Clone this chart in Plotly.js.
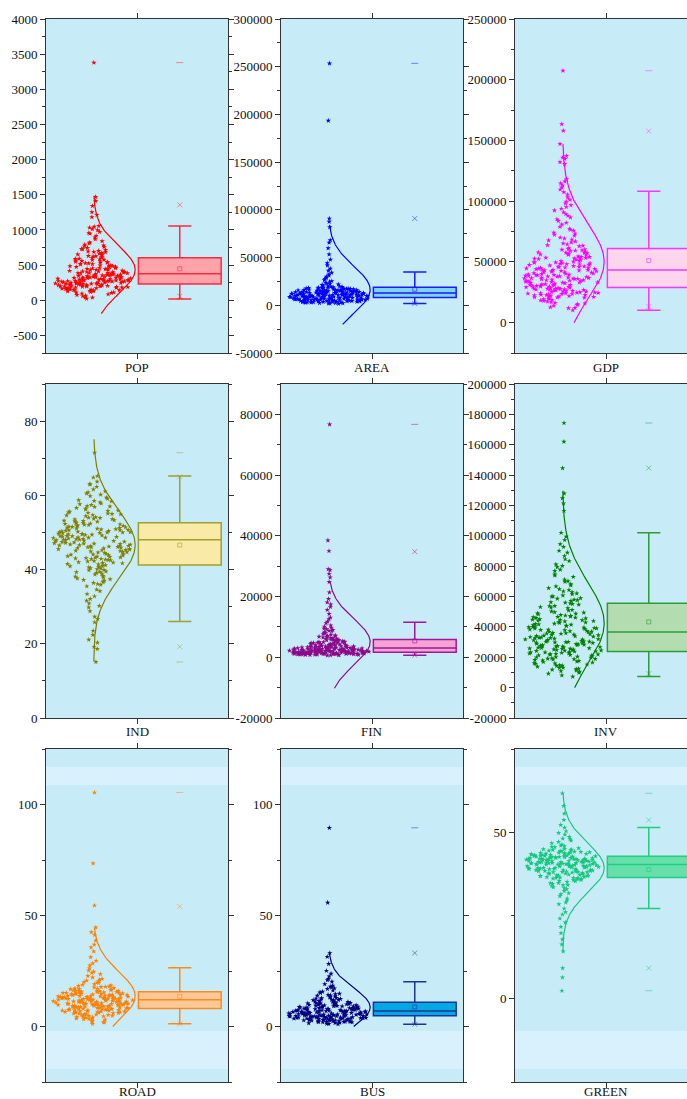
<!DOCTYPE html>
<html><head><meta charset="utf-8">
<script src="https://cdn.plot.ly/plotly-3.0.1.min.js"></script>
<style>html,body{margin:0;padding:0;overflow:hidden;background:#fff}#chart{width:697px;height:1099px}</style>
</head><body><div id="chart"></div>
<script>
const names = ['POP','AREA','GDP','IND','FIN','INV','ROAD','BUS','GREEN'];

const POP = [
 312, 188, 457, 96, 245, 603, 171, 368, 529, 283, 1046, 142, 394, 217, 731, 259, 66, 487, 335, 154,
 612, 298, 422, 203, 1254, 349, 118, 566, 271, 822, 183, 377, 236, 674, 447, 127, 301, 948, 262, 513,
 164, 389, 223, 758, 292, 41, 469, 336, 197, 583, 276, 1412, 352, 109, 641, 228, 405, 869, 251, 178,
 324, 549, 206, 694, 286, 433, 148, 371, 1012, 239, 497, 318, 85, 621, 265, 356, 192, 779, 411, 230,
 537, 134, 308, 917, 247, 462, 344, 172, 659, 281, 385, 213, 1183, 327, 572, 159, 443, 295, 715, 256,
 22, 398, 209, 486, 338, 808, 268, 141, 593, 364, 226, 1057, 305, 518, 189, 427, 274, 664, 347, 113,
 241, 956, 379, 523, 166, 287, 745, 332, 452, 199, 611, 262, 394, 3380, 219, 491, 316, 76, 557, 244,
 683, 359, 176, 436, 291, 842, 221, 508, 341, 151, 726, 278, 381, 972, 233, 474, 322, 195, 589, 253,
 1341, 366, 130, 419, 268, 631, 313, 894, 208, 545, 387, 161, 702, 248, 461, 329, 57, 578, 288, 1213,
 354, 182, 496, 235, 767, 306, 412, 144, 628, 274, 997, 343, 215, 533, 386, 106, 688, 257, 449, 321,
 1470, 202, 561, 298, 38, 792, 362, 229, 477, 171, 1034, 283, 402, 652
];
const AREA = [
 12450, 4380, 18920, 8760, 2150, 15630, 10240, 6870, 23610, 13980, 5290, 9470, 17340, 3620, 11860, 7530, 28740, 14720, 1870, 10890,
 16250, 6040, 12910, 4950, 8230, 19870, 11130, 3090, 15080, 9820, 34160, 7190, 13460, 5620, 17980, 2680, 10560, 21340, 8490, 14310,
 6480, 12070, 4110, 16840, 9160, 44210, 11590, 7860, 13720, 2390, 18410, 5870, 10030, 26380, 8040, 15420, 3840, 12630, 6690, 17120,
 9630, 4620, 14050, 20560, 11370, 7340, 16530, 1620, 13190, 8910, 87600, 5410, 10710, 18640, 3370, 12220, 7010, 15910, 24890, 9310,
 4790, 14580, 6230, 11020, 17650, 8370, 31280, 2870, 13630, 10420, 5960, 16020, 7720, 19230, 12780, 3990, 9040, 15270, 6310, 22470,
 11760, 4250, 14910, 8620, 53400, 10170, 17480, 5140, 12340, 7450, 193500, 9740, 16690, 3210, 13250, 6820, 18190, 11280, 2540, 14430,
 8130, 27650, 10830, 5730, 15760, 7620, 12890, 4510, 20180, 9560, 16370, 6580, 11940, 3480, 13860, 38470, 8820, 17790, 5050, 10330,
 14170, 7080, 12560, 2960, 18770, 9250, 65700, 6140, 15190, 11690, 4030, 13510, 8550, 21890, 10610, 5560, 16980, 7270, 12180, 3720,
 29960, 9910, 14840, 6390, 11470, 18330, 4860, 13070, 8300, 253500, 15500, 7390, 10980, 5330, 17230, 2280, 12740, 9380, 23020, 6960,
 14660, 41830, 11180, 4440, 16110, 8680, 13370, 5870, 19550, 10460, 7830, 12010, 3560, 15850, 9090, 81900, 6530, 13900, 25430, 11580,
 47890, 18050, 8420, 14990, 36250, 6720, 90900, 59800, 68200, 32470
];
const GDP = [
 43420, 21260, 56740, 29870, 15230, 38290, 67690, 24710, 47150, 33190, 90820, 19270, 51520, 27790, 36480, 61420, 22640, 41190, 112870, 30590,
 45930, 25380, 73250, 34660, 17420, 54130, 28520, 39740, 82240, 23310, 48890, 32480, 12640, 59360, 26410, 44680, 64520, 35740, 20520, 50640,
 31320, 99580, 27120, 42270, 57620, 22950, 37560, 70060, 29140, 46740, 13920, 53260, 25740, 40820, 134870, 33570, 60230, 21930, 43850, 76470,
 28140, 49320, 36120, 18810, 55440, 24320, 39010, 87980, 30980, 47590, 26090, 41530, 66870, 23680, 52380, 34280, 16340, 58490, 29430, 45020,
 105360, 37920, 20890, 50210, 31760, 62930, 27430, 43960, 35030, 78920, 24560, 56310, 40080, 14580, 48460, 33940, 95210, 22280, 44190, 69240,
 30210, 53690, 26780, 38650, 158000, 19640, 47380, 32850, 63740, 25060, 41910, 57180, 28810, 85110, 36830, 21570, 49780, 11850, 34870, 71640,
 45470, 27280, 54560, 39370, 23990, 60690, 31540, 118140, 42640, 18380, 51940, 29660, 75680, 37210, 24060, 46280, 93770, 33760, 58920, 20140,
 40450, 65310, 27990, 48040, 35390, 15870, 55870, 30420, 43310, 80870, 22460, 52830, 38110, 101240, 26270, 44470, 68430, 32090, 57850, 23540,
 42980, 10170, 49050, 36650, 130640, 28330, 54130, 39560, 72410, 25590, 46030, 34130, 89430, 21740, 59570, 41350, 17960, 50890, 30790, 63320,
 207400, 37030, 44880, 27680, 56090, 33010, 109610, 24860, 48230, 39190, 77290, 20710, 52610, 35950, 16910, 47790, 135920, 29530, 66080, 42430,
 96690, 31030, 53470, 22800, 45720, 38710, 116290, 28010, 57390, 40270, 74030, 26930, 49530, 147120, 36300, 163500, 12210, 60040, 32660, 43000,
 114630, 137260, 107480, 132190, 103120, 111280, 92360, 98140, 83690, 86560
];
const IND = [
 48.3, 41.7, 53.9, 37.2, 50.6, 44.9, 58.7, 46.2, 32.1, 51.4, 43.5, 49.1, 55.8, 39.8, 47.6, 62.3, 45.1, 52.2, 36.4, 48.9,
 42.6, 57.1, 50.1, 27.3, 46.8, 53.3, 40.4, 49.7, 44.2, 60.8, 51.8, 38.7, 47.2, 55.1, 43.1, 48.5, 34.6, 52.7, 45.9, 64.8,
 50.3, 41.2, 56.4, 46.4, 39.1, 49.5, 53.6, 22.4, 47.9, 44.5, 51.1, 59.4, 42.3, 48.1, 37.9, 54.4, 45.4, 50.8, 30.9, 46.9,
 52.4, 40.9, 57.8, 48.7, 43.8, 19.2, 51.6, 36.8, 49.3, 55.4, 45.7, 42.0, 50.0, 61.6, 47.4, 38.3, 53.1, 44.7, 49.9, 33.4,
 46.1, 52.0, 41.5, 58.1, 48.2, 43.3, 56.9, 50.5, 39.5, 47.0, 54.9, 45.2, 28.8, 51.2, 42.8, 49.0, 63.7, 46.6, 37.4, 52.9,
 44.0, 50.9, 40.6, 55.6, 48.6, 35.5, 47.5, 53.7, 43.6, 60.2, 49.6, 45.6, 25.8, 51.5, 41.9, 57.4, 46.5, 38.9, 50.2, 44.3,
 54.1, 48.0, 42.5, 59.8, 47.1, 36.1, 52.5, 45.0, 49.4, 31.6, 43.9, 56.2, 50.7, 40.1, 48.4, 65.2, 46.0, 53.2, 41.0, 51.9,
 44.8, 58.5, 39.3, 47.7, 52.1, 15.1, 49.2, 43.0, 55.0, 46.3, 37.6, 50.4, 62.9, 45.3, 51.0, 29.8, 48.8, 42.2, 54.6, 40.3,
 47.3, 57.0, 44.1, 49.8, 35.9, 52.6, 46.7, 41.4, 53.5, 71.5, 48.6, 38.1, 50.0, 45.8, 59.1, 43.2, 51.3, 34.2, 47.8, 55.9,
 42.9, 49.0, 26.7, 46.0, 52.3, 39.9, 48.1, 61.1, 44.6, 50.6, 37.0, 54.0, 45.5, 41.8, 51.7, 20.3, 47.0, 56.6, 43.4, 49.5,
 58.4, 40.7, 53.0, 46.3, 23.5, 50.1, 42.7, 63.1, 18.6, 32.8, 57.6, 36.6, 55.3, 21.1, 39.4, 60.5, 30.2, 54.7
];
const FIN = [
 2310, 870, 4520, 1430, 6120, 3080, 1190, 2760, 9240, 1680, 3840, 740, 5210, 2040, 1270, 7480, 2590, 1020, 3370, 15630,
 1840, 4960, 1350, 2870, 8310, 1560, 3620, 960, 5830, 2180, 1110, 4180, 2440, 10470, 1720, 6790, 3190, 1240, 2710, 580,
 4730, 1910, 3470, 1390, 12560, 2290, 5460, 1060, 3010, 1620, 7930, 2520, 4070, 890, 1980, 3760, 1300, 6360, 2650, 28700,
 1470, 4390, 2120, 990, 5020, 3280, 1760, 9780, 2370, 1160, 3930, 1530, 6980, 2830, 1340, 4610, 2060, 17420, 1080, 3540,
 2480, 5640, 1610, 810, 3150, 2240, 8720, 1420, 4280, 1890, 2960, 1200, 6540, 3700, 1650, 11240, 2560, 940, 5290, 2010,
 1510, 3420, 2780, 1010, 4850, 1790, 7210, 2390, 38500, 1280, 3890, 2140, 5910, 1580, 3060, 1120, 9460, 2670, 4450, 1860,
 660, 3310, 1450, 6050, 2210, 14280, 1700, 4090, 2900, 1030, 5380, 1960, 3580, 1260, 8040, 2500, 1540, 4670, 2270, 910,
 3230, 1820, 7660, 1170, 2620, 5120, 1400, 3990, 21350, 2090, 1710, 6270, 2800, 1050, 4350, 1930, 3120, 1320, 10080, 2430,
 1600, 5710, 2170, 850, 3660, 1490, 76700, 2940, 4800, 1230, 7040, 2330, 1780, 3390, 16540, 2050, 1140, 5570, 2720, 1870,
 4230, 1380, 9010, 3020, 1640, 24800, 2190, 4920, 1090, 3500, 1920, 6680, 2600, 35000, 1440, 13100, 3810, 1740, 8580, 2260,
 26300, 1150, 5050, 2470, 19200, 3250, 720, 11750, 1950, 4010, 18100, 1310, 29000, 2840, 27500
];
const INV = [
 36120, 18940, 52380, 27660, 12480, 44710, 23150, 64290, 31470, 9870, 40860, 21320, 57930, 29850, 15670, 47240, 34280, 83410, 25530, 38960,
 17230, 49680, 26740, 69820, 32910, 11350, 43150, 22580, 55460, 30210, 19760, 37840, 74530, 28320, 14290, 46380, 24860, 60150, 35170, 8120,
 41930, 20470, 53810, 31980, 92760, 16880, 39520, 27110, 48950, 23780, 66740, 33640, 13160, 45090, 29240, 58610, 21890, 37210, 79350, 25980,
 42680, 18210, 51170, 30650, 10470, 35830, 24190, 62870, 32290, 16120, 46920, 27980, 99480, 22950, 40290, 55180, 19340, 34560, 71220, 26380,
 44460, 12940, 38370, 28770, 50230, 21060, 63480, 31190, 17650, 42140, 24530, 86690, 33080, 7260, 47860, 25790, 57170, 36780, 15230, 40610,
 29630, 68150, 22260, 53090, 34940, 11860, 45630, 26990, 76840, 30870, 18580, 39050, 23420, 59870, 37420, 14760, 48320, 28040, 94560, 20830,
 43640, 32560, 61520, 25210, 13840, 41470, 27350, 54720, 35480, 9240, 46150, 22010, 72980, 30080, 17890, 38730, 24760, 65590, 33820, 19120,
 49410, 26520, 81170, 31640, 15980, 43870, 21540, 56280, 36460, 10890, 40020, 28560, 102000, 23960, 47510, 34030, 67380, 20150, 39780, 25040,
 52870, 29480, 14520, 44190, 116500, 32740, 58940, 22730, 37990, 88920, 27470, 45950, 18790, 35650, 62080, 24340, 41690, 30440, 77710, 16540,
 50890, 26180, 42950, 144600, 33350, 70150, 21780, 39260, 55930, 28880, 12170, 46640, 31830, 84550, 23270, 36890, 60740, 19990, 48780, 34690,
 174300, 25630, 53760, 30320, 124800, 41180, 97210, 38150, 162000, 29990, 73860, 127900, 64920, 44820, 121300, 90150, 57640, 80240
];
const ROAD = [
 12.4, 6.8, 15.9, 9.2, 3.1, 13.7, 18.3, 7.6, 11.1, 21.5, 8.4, 14.6, 5.2, 10.3, 16.8, 12.9, 4.4, 9.8, 24.7, 13.2,
 7.1, 11.8, 17.4, 6.2, 14.1, 9.5, 2.3, 12.1, 19.6, 8.1, 15.3, 10.7, 5.9, 13.5, 28.4, 11.4, 7.8, 16.1, 9.9, 4.1,
 12.7, 20.3, 8.8, 14.9, 6.5, 10.1, 17.9, 13.1, 3.6, 11.6, 8.6, 15.6, 9.4, 22.8, 12.2, 5.5, 14.3, 10.5, 7.3, 16.5,
 11.9, 35.6, 8.9, 13.8, 6.1, 10.9, 18.8, 12.6, 4.8, 15.1, 9.1, 11.3, 7.4, 14.5, 26.2, 10.2, 5.7, 13.4, 8.3, 16.9,
 12.3, 1.2, 9.7, 15.4, 6.9, 11.2, 19.1, 13.9, 7.9, 10.6, 44.6, 14.7, 8.5, 12.8, 3.9, 17.2, 9.3, 11.7, 6.4, 15.8,
 10.4, 21.1, 13.3, 7.2, 12.0, 5.1, 14.2, 9.6, 16.3, 11.5, 8.0, 23.6, 13.6, 6.7, 10.8, 2.8, 15.2, 12.5, 8.7, 18.1,
 11.0, 7.7, 14.4, 9.0, 31.2, 12.9, 5.8, 16.7, 10.0, 13.0, 4.6, 11.4, 8.2, 15.5, 20.7, 9.8, 12.3, 6.6, 14.0, 73.5,
 10.6, 17.6, 7.5, 13.2, 3.4, 11.8, 9.2, 15.0, 6.0, 12.6, 25.3, 8.9, 14.8, 10.3, 5.4, 16.2, 11.1, 7.0, 13.6, 19.9,
 9.4, 38.7, 12.1, 4.3, 14.1, 10.9, 8.4, 17.1, 6.3, 11.6, 22.1, 13.4, 7.6, 15.7, 2.0, 9.9, 12.7, 54.5, 10.1, 18.5,
 6.8, 14.6, 8.6, 11.3, 27.5, 13.7, 5.3, 16.0, 9.5, 12.4, 105.4, 7.3, 10.8, 41.2, 15.3, 4.9, 33.8, 20.0, 8.1, 24.1,
 1.8, 36.9, 3.3, 29.6, 2.5, 42.5, 17.8, 4.0
];
const BUS = [
 6.8, 3.9, 9.6, 5.2, 12.4, 2.1, 7.4, 4.6, 10.8, 8.1, 3.3, 15.7, 6.1, 4.9, 8.8, 1.6, 11.5, 5.7, 7.9, 2.8,
 13.6, 4.2, 6.5, 9.2, 3.6, 18.4, 5.4, 7.1, 2.4, 10.1, 6.3, 4.4, 8.5, 12.0, 1.9, 5.9, 9.9, 3.1, 7.6, 14.3,
 4.8, 6.9, 2.6, 11.1, 5.1, 8.2, 3.7, 16.9, 6.6, 4.1, 9.4, 2.2, 7.2, 5.6, 12.9, 3.4, 8.9, 4.7, 6.0, 20.2,
 1.3, 10.4, 5.3, 7.8, 3.8, 13.1, 6.4, 2.9, 9.0, 4.5, 11.8, 5.8, 8.3, 3.2, 15.1, 6.7, 4.3, 10.6, 2.5, 7.5,
 33.1, 5.0, 8.6, 3.5, 12.2, 6.2, 4.0, 9.7, 1.1, 7.0, 14.8, 5.5, 2.7, 10.0, 6.9, 3.9, 17.6, 4.6, 8.0, 5.2,
 11.3, 2.3, 7.3, 3.6, 9.3, 6.1, 23.8, 4.9, 12.6, 1.7, 8.4, 5.4, 10.9, 3.0, 7.7, 4.3, 13.9, 6.5, 2.0, 9.1,
 5.9, 19.1, 3.4, 8.7, 4.7, 11.6, 6.6, 2.4, 7.9, 55.8, 5.1, 10.3, 3.8, 14.0, 6.3, 4.2, 9.5, 1.5, 7.4, 12.8,
 5.6, 3.2, 8.1, 16.2, 4.4, 6.8, 2.8, 10.7, 5.3, 21.4, 7.1, 3.7, 9.8, 4.8, 13.3, 6.0, 2.1, 8.9, 5.7, 11.0,
 3.5, 7.6, 28.2, 4.1, 9.1, 6.4, 1.9, 12.1, 5.0, 8.3, 3.1, 15.4, 7.2, 4.5, 10.2, 2.6, 6.7, 89.5, 5.5, 9.6,
 18.0, 3.3, 7.8, 4.0, 11.9, 6.2, 2.3, 8.6, 22.6, 5.8, 14.6, 3.0, 25.1, 10.5, 4.6, 17.2, 1.2, 31.4, 7.0, 20.9
];
const GREEN = [
 40.8, 36.9, 42.3, 38.4, 44.1, 39.7, 41.5, 34.2, 43.2, 40.1, 37.6, 45.6, 41.9, 35.4, 39.2, 42.7, 30.8, 40.5, 38.1, 43.8,
 41.2, 36.3, 47.9, 39.9, 42.1, 37.2, 40.3, 33.5, 44.6, 41.7, 38.8, 42.5, 21.6, 40.0, 36.7, 43.4, 39.4, 41.0, 35.9, 46.3,
 42.9, 38.2, 40.7, 31.7, 43.0, 39.1, 41.4, 37.0, 44.9, 40.2, 36.1, 42.2, 38.6, 49.8, 41.1, 34.8, 39.6, 43.6, 40.9, 37.8,
 42.6, 28.4, 41.6, 38.9, 45.2, 40.4, 36.5, 42.0, 39.3, 43.3, 35.1, 41.8, 37.4, 44.3, 40.6, 32.9, 42.4, 38.5, 41.3, 2.4,
 39.8, 43.9, 36.8, 40.8, 47.1, 38.0, 42.8, 34.5, 41.1, 39.0, 44.0, 37.3, 42.0, 40.1, 25.3, 43.1, 38.7, 41.5, 36.0, 45.8,
 40.3, 39.5, 42.3, 33.8, 41.9, 37.7, 43.5, 40.6, 38.3, 51.4, 42.6, 35.7, 39.9, 44.5, 41.2, 36.4, 42.1, 38.9, 40.7, 30.1,
 43.7, 39.2, 41.6, 37.1, 46.7, 40.0, 42.9, 35.3, 41.0, 38.6, 53.7, 42.4, 36.6, 40.5, 43.2, 39.4, 17.8, 41.8, 37.9, 44.7,
 40.9, 34.1, 42.7, 38.1, 41.3, 48.6, 39.7, 43.6, 36.2, 40.2, 42.2, 27.1, 41.4, 38.4, 45.0, 40.4, 35.6, 42.5, 39.0, 43.9,
 37.5, 41.7, 9.2, 40.8, 44.2, 38.0, 42.8, 33.2, 41.1, 39.6, 46.0, 36.9, 42.0, 40.3, 29.5, 43.4, 38.8, 41.5, 61.7, 37.0,
 42.3, 39.3, 50.3, 40.6, 34.7, 44.8, 41.9, 22.9, 38.2, 43.0, 57.9, 6.4, 39.8, 14.2, 45.5, 26.0, 48.1, 19.7, 36.3, 31.4,
 47.5, 32.4, 52.2, 28.9, 44.4, 24.1, 49.3, 16.3, 55.6
];

// box statistics
const boxQ1     = [233, 8042, 28846, 41.2, 1646, 23736, 8.1, 4.8, 36.4];
const boxMedian = [376, 12937, 43407, 48.0, 3073, 36700, 12.0, 7.0, 40.3];
const boxQ3     = [605, 18881, 60989, 52.6, 5816, 55600, 15.7, 10.9, 42.8];
const whiskLo   = [19, 1748, 10165, 26.0, 658, 7253, 1.2, 1.0, 27.1];
const whiskHi   = [1057, 34965, 108242, 65.2, 11523, 102000, 26.5, 20.2, 51.4];
const boxMean   = [448, 16783, 51099, 46.6, 5377, 43300, 13.6, 8.8, 38.8];
const pct1      = [57, 1748, 13186, 19.2, 658, 9231, 1.2, 1.0, 9.2];
const pct99     = [1357, 90909, 157692, 65.0, 34787, 144600, 54.0, 33.1, 53.7];
const minVal    = [19, 1520, 10165, 15.1, 580, 7253, 1.2, 1.0, 2.4];
const maxVal    = [3380, 253500, 207400, 71.5, 76700, 174300, 105.4, 89.5, 61.7];
// extent of the drawn normal curves
const curveLo   = [-190, -20000, 0, 15.3, -10200, 0, 0, 0, 14.2];
const curveHi   = [1486, 84000, 147000, 75.1, 25000, 129700, 44.6, 33.4, 61.8];

// axis setup
const yRange = [[-750,4000],[-50000,300000],[-25000,250000],[0,90],[-20000,90000],[-20000,200000],[-25,125],[-25,125],[-25,75]];
const yTick  = [[-500,4000,500],[-50000,300000,50000],[0,250000,50000],[0,80,20],[-20000,80000,20000],[-20000,200000,20000],[0,100,50],[0,100,50],[0,50,50]];
const yMinor = [250, 25000, 25000, 10, 10000, 10000, 25, 25, 25];

// styles
const ptColor  = ['#ff0000','#0000ff','#ff00ff','#808000','#8b0a8b','#008000','#ff8000','#000080','#17c87c'];
const lnColor  = ['#ff2a3a','#1a1aff','#ff33ff','#a0a030','#a0189a','#2e9a3a','#ff8a1a','#1c3592','#22cc80'];
const fillCol  = ['#ffa3ab','#7fd3f5','#fdd5ec','#faeaa8','#f5a3d3','#b3ddb0','#ffc898','#00a8e4','#66e0a8'];

const series = [POP, AREA, GDP, IND, FIN, INV, ROAD, BUS, GREEN];

const W = 697, H = 1099;
const colL = [46, 281, 515], colW = 182;
const rowT = [19, 384, 749], rowB = [353, 718, 1082];
const labelY = [367, 731, 1091];
const CLOUD_C = 0.262, CLOUD_HW = 0.222, CURVE_AMP = 0.228, BOX_X = 0.735;
const FONT = {family: 'Liberation Serif, Times New Roman, serif', size: 13, color: '#111'};

function stats(a) {
  const n = a.length;
  const m = a.reduce((s, v) => s + v, 0) / n;
  const sd = Math.sqrt(a.reduce((s, v) => s + (v - m) * (v - m), 0) / (n - 1));
  const s = [...a].sort((p, q) => p - q);
  const qa = p => { const i = (n - 1) * p, lo = Math.floor(i); return s[lo] + (s[Math.min(lo + 1, n - 1)] - s[lo]) * (i - lo); };
  return {n, m, sd, iqr: qa(0.75) - qa(0.25)};
}
function range(a, b, st) { const r = []; for (let v = a; v <= b + st * 1e-6; v += st) r.push(Math.round(v * 1e6) / 1e6); return r; }

const traces = [];
const layout = {
  width: W, height: H, margin: {l: 0, r: 0, t: 0, b: 0},
  paper_bgcolor: '#ffffff', plot_bgcolor: '#c8ebf8',
  showlegend: false, hovermode: false, boxmode: 'overlay',
  font: FONT, shapes: [], annotations: []
};

for (let i = 0; i < 9; i++) {
  const r = Math.floor(i / 3), c = i % 3;
  const xa = i === 0 ? 'x' : 'x' + (i + 1), ya = i === 0 ? 'y' : 'y' + (i + 1);
  const xk = i === 0 ? 'xaxis' : 'xaxis' + (i + 1), yk = i === 0 ? 'yaxis' : 'yaxis' + (i + 1);
  const tv = range(...yTick[i]);
  layout[xk] = {
    domain: [colL[c] / W, Math.min(1, (colL[c] + colW) / W)], range: [0, 1], type: 'linear', anchor: ya,
    tickmode: 'array', tickvals: [0.5], ticktext: [''], ticks: 'outside', ticklen: 5, tickcolor: '#333',
    showline: true, linecolor: '#333', linewidth: 1, mirror: 'ticks', showgrid: false, zeroline: false,
    tickfont: FONT, fixedrange: true
  };
  layout[yk] = {
    domain: [1 - rowB[r] / H, 1 - rowT[r] / H], range: yRange[i], anchor: xa,
    tickmode: 'array', tickvals: tv, ticktext: tv.map(v => String(v)), ticks: 'outside', ticklen: 5, tickcolor: '#333',
    minor: {tickmode: 'linear', tick0: 0, dtick: yMinor[i], ticks: 'outside', ticklen: 3, tickcolor: '#333', showgrid: false},
    showline: true, linecolor: '#333', linewidth: 1, mirror: 'ticks', showgrid: false, zeroline: false,
    tickfont: FONT, fixedrange: true
  };
  layout.annotations.push({
    xref: xa + ' domain', yref: 'paper', x: 0.5, y: 1 - labelY[r] / H, xanchor: 'center', yanchor: 'middle',
    text: names[i], showarrow: false, font: FONT
  });
  if (r === 2) {
    [[767, 785], [1031, 1069]].forEach(b => layout.shapes.push({
      type: 'rect', xref: xa + ' domain', yref: 'paper', x0: 0, x1: 1, y0: 1 - b[1] / H, y1: 1 - b[0] / H,
      fillcolor: '#d8f1fc', line: {width: 0}, layer: 'below'
    }));
  }

  const d = series[i];
  const st = stats(d);
  const h = 1.06 * Math.min(st.sd, st.iqr / 1.34) * Math.pow(st.n, -0.2);
  const dens = y => d.reduce((s, v) => s + Math.exp(-0.5 * ((y - v) / h) ** 2), 0);
  const dv = d.map(dens);
  const dmax = Math.max(...dv);
  const xs = d.map((v, k) => {
    const u = 2 * ((k * 0.6180339887 + 0.37) % 1) - 1;
    return CLOUD_C + CLOUD_HW * Math.pow(dv[k] / dmax, 0.8) * u;
  });
  traces.push({type: 'scatter', mode: 'markers', x: xs, y: d, xaxis: xa, yaxis: ya,
    marker: {symbol: 'star', size: 4, color: ptColor[i], line: {width: 0}}, cliponaxis: true});

  const cy = [], cx = [];
  for (let k = 0; k <= 240; k++) {
    const y = curveLo[i] + (curveHi[i] - curveLo[i]) * k / 240;
    cy.push(y); cx.push(CLOUD_C + CURVE_AMP * Math.exp(-0.5 * ((y - st.m) / st.sd) ** 2));
  }
  traces.push({type: 'scatter', mode: 'lines', x: cx, y: cy, xaxis: xa, yaxis: ya,
    line: {color: ptColor[i], width: 1.2}});

  traces.push({type: 'box', x: [BOX_X], q1: [boxQ1[i]], median: [boxMedian[i]], q3: [boxQ3[i]],
    lowerfence: [whiskLo[i]], upperfence: [whiskHi[i]], xaxis: xa, yaxis: ya,
    width: 0.455, whiskerwidth: 0.28, boxpoints: false, fillcolor: fillCol[i],
    line: {color: lnColor[i], width: 1.5}, orientation: 'v'});

  traces.push({type: 'scatter', mode: 'markers', x: [BOX_X], y: [boxMean[i]], xaxis: xa, yaxis: ya,
    marker: {symbol: 'square-open', size: 4, color: lnColor[i], opacity: 0.6, line: {width: 1}}});
  traces.push({type: 'scatter', mode: 'markers', x: [BOX_X, BOX_X], y: [pct1[i], pct99[i]], xaxis: xa, yaxis: ya,
    marker: {symbol: 'x-thin-open', size: 5, color: lnColor[i], opacity: 0.5, line: {width: 1, color: lnColor[i]}}});
  traces.push({type: 'scatter', mode: 'markers', x: [BOX_X, BOX_X], y: [minVal[i], maxVal[i]], xaxis: xa, yaxis: ya,
    marker: {symbol: 'line-ew-open', size: 5, color: lnColor[i], opacity: 0.5, line: {width: 1, color: lnColor[i]}}});
}

Plotly.newPlot('chart', traces, layout, {staticPlot: true, displayModeBar: false});
</script></body></html>
